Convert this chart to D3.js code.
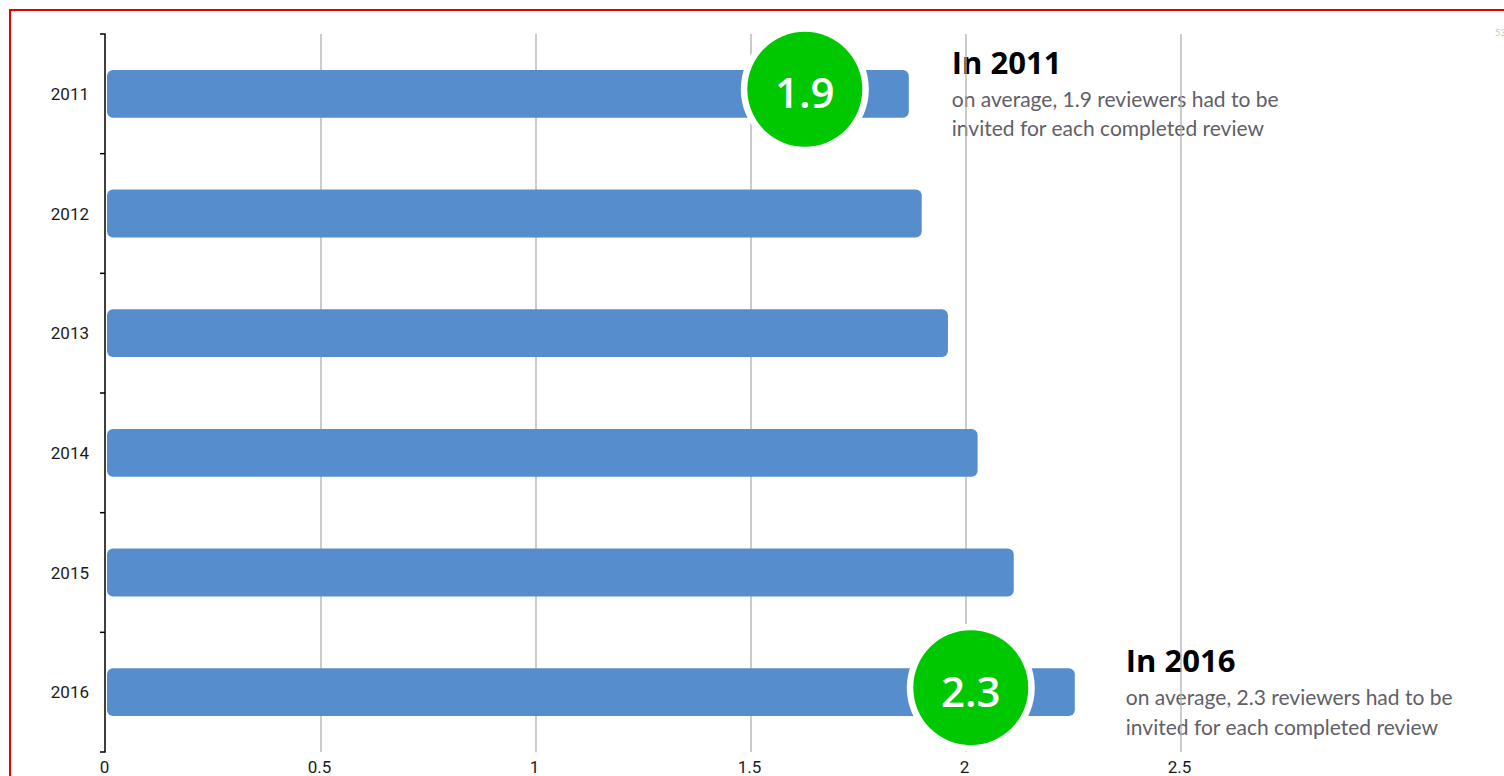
<!DOCTYPE html>
<html>
<head>
<meta charset="utf-8">
<script src="https://cdn.jsdelivr.net/npm/d3@7"></script>
<style>
  html, body { margin: 0; padding: 0; background: #fff; }
  svg { display: block; }
</style>
</head>
<body>
<svg id="chart" width="1504" height="776"></svg>
<script>
const years = ["2011", "2012", "2013", "2014", "2015", "2016"];
const values = [1.867, 1.897, 1.958, 2.027, 2.111, 2.253];
const xTicks = [0, 0.5, 1, 1.5, 2, 2.5];
const xTickLabels = ["0", "0.5", "1", "1.5", "2", "2.5"];
const calloutYears = ["2011", "2016"];
const calloutBadges = ["1.9", "2.3"];
const calloutTitles = ["In 2011", "In 2016"];
const calloutLine1 = ["on average, 1.9 reviewers had to be", "on average, 2.3 reviewers had to be"];
const calloutLine2 = ["invited for each completed review", "invited for each completed review"];

const svg = d3.select("#chart");
const x = d3.scaleLinear().domain([0, 2.5]).range([106, 1181]);
const y = d3.scaleBand().domain(years).range([34, 752]).paddingInner(0.6).paddingOuter(0.3);
const yFull = d3.scaleBand().domain(years).range([34, 752]);
const valueByYear = new Map(years.map((yr, i) => [yr, values[i]]));
const mid = yr => yFull(yr) + yFull.bandwidth() / 2;

// red frame
svg.append("rect").attr("x", 10).attr("y", 10).attr("width", 1520).attr("height", 800)
  .attr("fill", "none").attr("stroke", "#e00000").attr("stroke-width", 2);

// small faint label top right
svg.append("text").attr("x", 1495).attr("y", 36).text("53")
  .attr("font-family", "Lato, sans-serif").attr("font-size", 9).attr("fill", "#c8c8c8");

// annotation texts
const callouts = calloutYears.map((yr, i) => ({
  year: yr, badge: calloutBadges[i], title: calloutTitles[i], l1: calloutLine1[i], l2: calloutLine2[i]
}));
const textOffsets = { "2011": 43, "2016": 51 };
const ann = svg.append("g").selectAll("g").data(callouts).join("g")
  .attr("transform", d => `translate(${x(valueByYear.get(d.year)) + textOffsets[d.year]},${mid(d.year)})`);
ann.append("text").attr("y", -20).text(d => d.title)
  .attr("font-family", "'Open Sans', sans-serif").attr("font-weight", 700)
  .attr("font-size", 31).attr("fill", "#000");
ann.append("text").attr("y", 13).text(d => d.l1)
  .attr("font-family", "Lato, sans-serif").attr("font-size", 21).attr("fill", "#5f6068");
ann.append("text").attr("y", 42.5).text(d => d.l2)
  .attr("font-family", "Lato, sans-serif").attr("font-size", 21).attr("fill", "#5f6068");

// gridlines
svg.append("g").selectAll("line").data(xTicks.filter(t => t > 0)).join("line")
  .attr("x1", d => x(d)).attr("x2", d => x(d)).attr("y1", 34).attr("y2", 752)
  .attr("stroke", "#b0b0b0").attr("stroke-width", 1.3);

// bars
svg.append("g").selectAll("rect").data(years).join("rect")
  .attr("x", x(0) + 1).attr("y", d => y(d))
  .attr("width", d => x(valueByYear.get(d)) - x(0) - 1)
  .attr("height", y.bandwidth()).attr("rx", 6)
  .attr("fill", "#568dcc");

// y axis
const yAxisG = svg.append("g").attr("transform", "translate(105,0)");
yAxisG.append("path").attr("d", "M-5,34H0V752H-5").attr("fill", "none").attr("stroke", "#000").attr("stroke-width", 1.5);
yAxisG.selectAll("line.bt").data(years.slice(1)).join("line").attr("class", "bt")
  .attr("x1", -5).attr("x2", 0).attr("y1", d => yFull(d)).attr("y2", d => yFull(d))
  .attr("stroke", "#000").attr("stroke-width", 1.5);
const yAxis = d3.axisLeft(yFull).tickSize(0).tickPadding(16);
const yLabels = svg.append("g").attr("transform", "translate(105,0)").call(yAxis);
yLabels.select(".domain").remove();
yLabels.selectAll("text").attr("font-family", "Roboto, sans-serif").attr("font-size", 17).attr("fill", "#1a1a1a").attr("dy", "0.36em");

// x axis labels
const xAxis = d3.axisBottom(x).tickValues(xTicks).tickFormat((d, i) => xTickLabels[i]).tickSize(0).tickPadding(9);
const xLabels = svg.append("g").attr("transform", "translate(-2,752)").call(xAxis);
xLabels.select(".domain").remove();
xLabels.selectAll("text").attr("font-family", "Roboto, sans-serif").attr("font-size", 17).attr("fill", "#1a1a1a");

// circles
const badgeOffset = 104;
const badges = svg.append("g").selectAll("g").data(callouts).join("g")
  .attr("transform", d => `translate(${x(valueByYear.get(d.year)) - badgeOffset},${mid(d.year) - 4.5})`);
badges.append("circle").attr("r", 64).attr("fill", "#fff");
badges.append("circle").attr("r", 57.5).attr("fill", "#00c800");
badges.append("text").text(d => d.badge).attr("text-anchor", "middle").attr("y", 4).attr("dy", "0.36em")
  .attr("font-family", "'Open Sans', sans-serif").attr("font-weight", 600)
  .attr("font-size", 42).attr("fill", "#fff");
</script>
</body>
</html>
